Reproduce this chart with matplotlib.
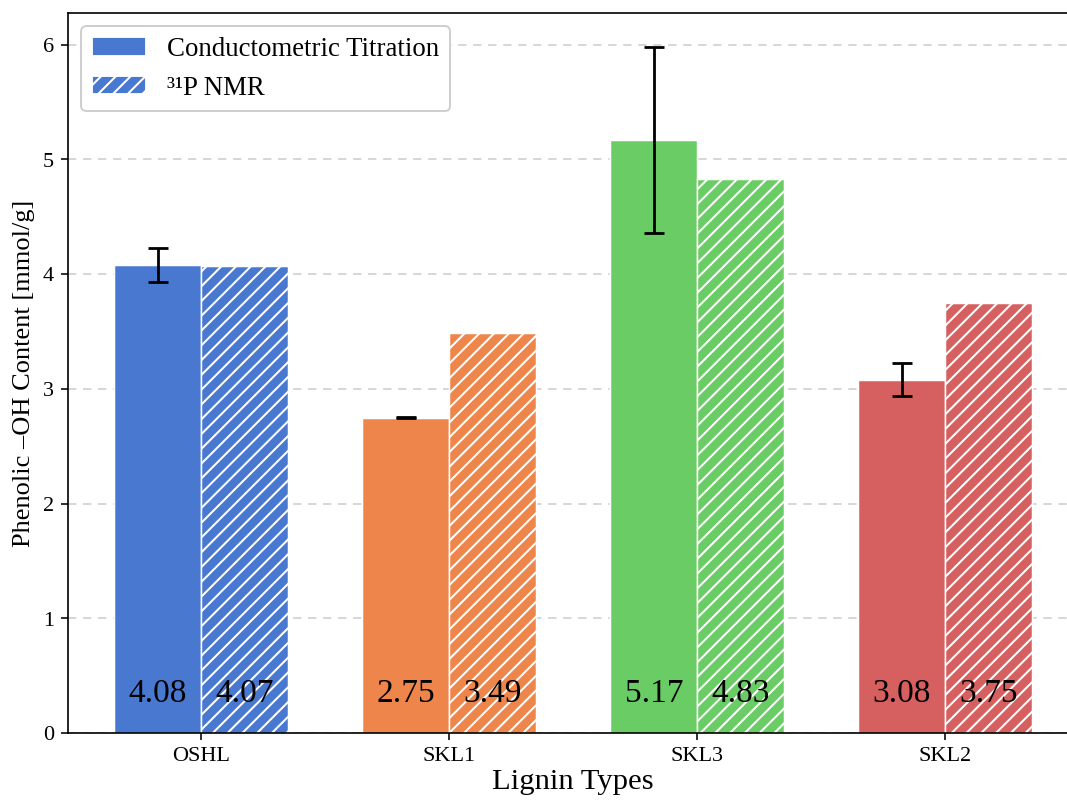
import matplotlib
matplotlib.use("Agg")
import matplotlib.pyplot as plt
from matplotlib.patches import Patch
import numpy as np

plt.rcParams['font.family'] = ['Liberation Serif', 'DejaVu Serif']
plt.rcParams['hatch.color'] = 'white'
plt.rcParams['hatch.linewidth'] = 1.1

lignins = ["OSHL", "SKL1", "SKL3", "SKL2"]
conductometric = [4.08, 2.75, 5.17, 3.08]
conductometric_err = [0.145, 0.005, 0.81, 0.145]
nmr_31p = [4.07, 3.49, 4.83, 3.75]
colors = ["#4878d0", "#ee854a", "#6acc64", "#d65f5f"]

DPI = 1067 / 8
fig = plt.figure(figsize=(8, 6), dpi=DPI)
ax = fig.add_axes([68 / 1067, 67 / 800, 1010 / 1067, 720 / 800])

x = np.arange(len(lignins))
w = 0.35

for i in range(len(lignins)):
    ax.bar(x[i] - w / 2, conductometric[i], w, color=colors[i], edgecolor='white',
           linewidth=0.8, yerr=conductometric_err[i], capsize=5.25,
           error_kw=dict(elinewidth=1.5, capthick=1.5, ecolor='black'), zorder=2)
    ax.bar(x[i] + w / 2, nmr_31p[i], w, color=colors[i], edgecolor='white',
           linewidth=0.8, hatch='///', zorder=2)
    ax.text(x[i] - w / 2, 0.34, f"{conductometric[i]:.2f}", ha='center', va='center',
            fontsize=18, zorder=3)
    ax.text(x[i] + w / 2, 0.34, f"{nmr_31p[i]:.2f}", ha='center', va='center',
            fontsize=18, zorder=3)

top = max(c + e for c, e in zip(conductometric, conductometric_err)) * 1.05
ax.set_ylim(0, top)
ax.set_xlim(-0.536, 3.535)
ax.set_xticks(x)
ax.set_xticklabels(lignins)
ax.tick_params(axis='both', labelsize=12, length=3.75, width=0.85, pad=3.75)
ax.set_xlabel("Lignin Types", fontsize=16.5, labelpad=1.5)
ax.set_ylabel("Phenolic –OH Content [mmol/g]", fontsize=14.25, labelpad=4.5)
ax.yaxis.grid(True, linestyle=(0, (5, 4)), color='#d0d0d0', linewidth=0.9, zorder=0)
ax.set_axisbelow(True)
for s in ax.spines.values():
    s.set_linewidth(0.9)

handles = [Patch(facecolor=colors[0], edgecolor='white', label="Conductometric Titration"),
           Patch(facecolor=colors[0], edgecolor='white', hatch='///', label="³¹P NMR")]
ax.legend(handles=handles, loc='upper left', fontsize=14.5, handlelength=2.0,
          handleheight=0.7, framealpha=1, edgecolor='#cccccc',
          borderaxespad=0.5)

fig.savefig("out.png", dpi=DPI)
